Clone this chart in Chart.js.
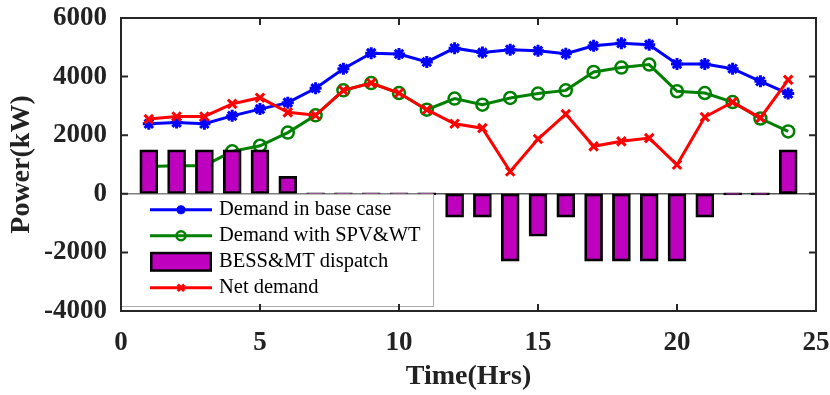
<!DOCTYPE html>
<html><head><meta charset="utf-8">
<script src="https://cdn.jsdelivr.net/npm/chart.js@4"></script>
<style>html,body{margin:0;padding:0;background:#fff;}#wrap{width:830px;height:395px;}</style>
</head><body><div id="wrap"><canvas id="c" width="830" height="395"></canvas></div>
<script>
// ---- data ----
const hours = [1,2,3,4,5,6,7,8,9,10,11,12,13,14,15,16,17,18,19,20,21,22,23,24];
const baseDemand = [2390,2430,2390,2660,2890,3110,3600,4270,4800,4770,4500,4970,4820,4920,4880,4780,5050,5140,5090,4430,4430,4270,3840,3420];
const spvWtDemand = [930,960,960,1450,1640,2090,2680,3530,3780,3440,2870,3250,3040,3270,3420,3530,4160,4310,4410,3500,3440,3130,2570,2130];
const dispatch = [1500,1500,1500,1500,1500,600,0,0,0,0,0,-800,-800,-2300,-1450,-800,-2300,-2300,-2300,-2300,-800,0,0,1500];
const netDemand = [2550,2640,2640,3070,3280,2780,2680,3530,3780,3440,2870,2390,2240,760,1870,2720,1620,1790,1900,990,2620,3130,2590,3890];
const xTicks = [0,5,10,15,20,25];
const yTicks = [-4000,-2000,0,2000,4000,6000];
const seriesNames = ['Demand in base case','Demand with SPV&WT','BESS&MT dispatch','Net demand'];
const xTitle = 'Time(Hrs)';
const yTitle = 'Power(kW)';

const FONT = "'Liberation Serif','Times New Roman',serif";
const AXIS = '#262626';
const pts = arr => hours.map((h,i)=>({x:h,y:arr[i]}));

function plotBox(chart){
  const {x,y} = chart.scales;
  return {left:x.getPixelForValue(x.min), right:x.getPixelForValue(x.max),
          top:y.getPixelForValue(y.max), bottom:y.getPixelForValue(y.min)};
}

const baselinePlugin = {
  id:'baseline',
  beforeDatasetsDraw(chart){
    const {ctx, scales:{y}} = chart; const b = plotBox(chart);
    const p = y.getPixelForValue(0);
    ctx.save(); ctx.strokeStyle = '#555'; ctx.lineWidth = 1.5;
    ctx.beginPath(); ctx.moveTo(b.left,p); ctx.lineTo(b.right,p); ctx.stroke(); ctx.restore();
  }
};

const legendPlugin = {
  id:'customLegend',
  afterDatasetsDraw(chart){
    const {ctx, scales:{y}} = chart; const a = plotBox(chart);
    const top = y.getPixelForValue(0);
    const left = a.left, right = 433, bottom = 306;
    ctx.save();
    ctx.fillStyle = '#fff';
    ctx.fillRect(left, top, right-left, bottom-top);
    ctx.strokeStyle = '#aaa'; ctx.lineWidth = 1;
    ctx.strokeRect(left+0.5, top+0.5, right-left, bottom-top);
    const x1 = 150, x2 = 212, xm = 181, tx = 219;
    const rows = [16,42,68,94].map(o=>top+o);
    const ds = chart.data.datasets;
    [0,1,2,3].forEach((di,k)=>{
      const d = ds[di]; const yy = rows[k];
      if (d.type === 'bar') {
        ctx.fillStyle = '#000';
        ctx.fillRect(x1, yy-10, x2-x1, 20);
        ctx.fillStyle = d.backgroundColor;
        ctx.fillRect(x1+2.5, yy-7.5, x2-x1-5, 15);
      } else {
        ctx.strokeStyle = d.borderColor; ctx.lineWidth = d.borderWidth;
        ctx.beginPath(); ctx.moveTo(x1,yy); ctx.lineTo(x2,yy); ctx.stroke();
        ctx.fillStyle = d.pointBackgroundColor; ctx.strokeStyle = d.pointBorderColor; ctx.lineWidth = d.pointBorderWidth;
        Chart.helpers.drawPoint(ctx, {pointStyle:d.pointStyle, radius:d.pointRadius-1.5, borderWidth:d.pointBorderWidth, rotation:0}, xm, yy);
      }
      ctx.fillStyle = '#000';
      ctx.font = '20.5px ' + FONT;
      ctx.textBaseline = 'middle'; ctx.textAlign = 'left';
      ctx.fillText(d.label, tx, yy);
    });
    ctx.restore();
  }
};

const framePlugin = {
  id:'frame',
  afterDraw(chart){
    const {ctx, scales:{x,y}} = chart; const a = plotBox(chart);
    ctx.save();
    ctx.strokeStyle = AXIS; ctx.lineWidth = 2;
    ctx.strokeRect(a.left, a.top, a.right-a.left, a.bottom-a.top);
    const tl = 7;
    ctx.beginPath();
    x.ticks.forEach(t=>{ const p = x.getPixelForValue(t.value);
      ctx.moveTo(p,a.bottom); ctx.lineTo(p,a.bottom-tl);
      ctx.moveTo(p,a.top); ctx.lineTo(p,a.top+tl); });
    y.ticks.forEach(t=>{ const p = y.getPixelForValue(t.value);
      ctx.moveTo(a.left,p); ctx.lineTo(a.left+tl,p);
      ctx.moveTo(a.right,p); ctx.lineTo(a.right-tl,p); });
    ctx.stroke();
    ctx.restore();
  }
};

new Chart(document.getElementById('c'), {
  type:'bar',
  data:{
    datasets:[
      {type:'line', label:seriesNames[0], data:pts(baseDemand), borderColor:'#0000FF', borderWidth:3,
       pointStyle:'star', pointRadius:6, pointBorderWidth:3, pointBackgroundColor:'#0000FF', pointBorderColor:'#0000FF', order:3},
      {type:'line', label:seriesNames[1], data:pts(spvWtDemand), borderColor:'#008000', borderWidth:3,
       pointStyle:'circle', pointRadius:6, pointBorderWidth:2.5, pointBackgroundColor:'rgba(0,0,0,0)', pointBorderColor:'#008000', order:2},
      {type:'bar', label:seriesNames[2], data:pts(dispatch), backgroundColor:'#BF00BF', borderColor:'#000000', borderWidth:2.8,
       borderSkipped:false, barThickness:18, minBarLength:2, order:1},
      {type:'line', label:seriesNames[3], data:pts(netDemand), borderColor:'#FF0000', borderWidth:3,
       pointStyle:'crossRot', pointRadius:6, pointBorderWidth:3, pointBackgroundColor:'#FF0000', pointBorderColor:'#FF0000', order:0}
    ]
  },
  options:{
    responsive:false, animation:false, devicePixelRatio:1,
    layout:{padding:{top:18, right:14, left:0, bottom:0}},
    plugins:{legend:{display:false}, tooltip:{enabled:false}},
    scales:{
      x:{type:'linear', min:0, max:25, offset:false,
        afterBuildTicks: s => { s.ticks = xTicks.map(v=>({value:v})); },
        afterFit: s => { s.height = 84; s.paddingLeft = 0; s.paddingRight = 0; },
        grid:{display:false}, border:{display:false},
        ticks:{font:{family:FONT, size:27, weight:'bold'}, color:'#222', padding:8, maxRotation:0},
        title:{display:true, text:xTitle, font:{family:FONT, size:28, weight:'bold', lineHeight:1}, color:'#222', padding:{top:0,bottom:4}}
      },
      y:{min:-4000, max:6000,
        afterBuildTicks: s => { s.ticks = yTicks.map(v=>({value:v})); },
        afterFit: s => { s.width = 121; s.paddingTop = 0; s.paddingBottom = 0; },
        grid:{display:false, drawTicks:false}, border:{display:false},
        ticks:{font:{family:FONT, size:27, weight:'bold'}, color:'#222', padding:14, callback: v => String(v)},
        title:{display:true, text:yTitle, font:{family:FONT, size:28, weight:'bold', lineHeight:1}, color:'#222', padding:{top:8,bottom:0}}
      }
    }
  },
  plugins:[baselinePlugin, legendPlugin, framePlugin]
});
</script>
</body></html>
